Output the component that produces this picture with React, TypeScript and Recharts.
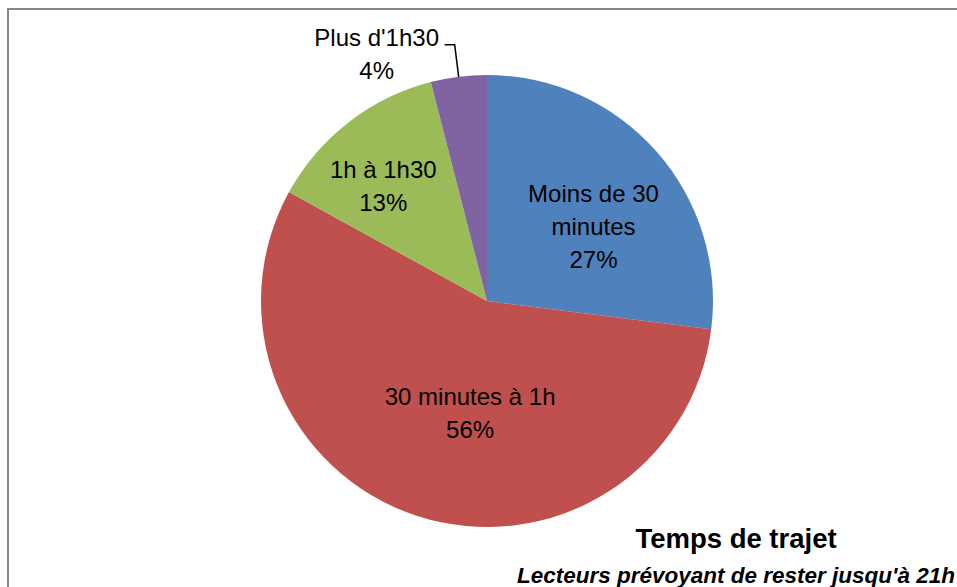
import React from 'react';
import { PieChart, Pie, Cell } from 'recharts';

const CATEGORIES = ['Moins de 30 minutes', '30 minutes à 1h', '1h à 1h30', "Plus d'1h30"];
const VALUES = [27, 56, 13, 4];
const LABEL_LINES = [['Moins de 30', 'minutes'], ['30 minutes à 1h'], ['1h à 1h30'], ["Plus d'1h30"]];
const COLORS = ['#4f81bd', '#c0504d', '#9bbb59', '#8064a2'];

const data = CATEGORIES.map((name, i) => ({ name, value: VALUES[i] }));

const FONT = "'Liberation Sans', Arial, sans-serif";
const LINE_H = 33;
const RAD = Math.PI / 180;

// label anchor (radius, angle) relative to the pie center
const LABEL_POLAR: [number, number][] = [
  [130, 35],
  [113, -98.6],
  [155, 132],
];

function renderLabel(props: any) {
  const { cx, cy, midAngle, outerRadius, index, percent } = props;
  const pct = `${Math.round(percent * 100)}%`;
  const lines = [...LABEL_LINES[index], pct];
  if (index === 3) {
    const px = cx + outerRadius * Math.cos(-midAngle * RAD);
    const py = cy + outerRadius * Math.sin(-midAngle * RAD);
    const ex = px - 4;
    const ey = py - 32;
    const tx = ex - 10;
    return (
      <g>
        <polyline points={`${px},${py} ${ex},${ey} ${tx},${ey}`} fill="none" stroke="#000" strokeWidth={1.5} />
        <text x={tx - 68} textAnchor="middle" fontFamily={FONT} fontSize={24} fill="#000">
          {lines.map((l, i) => (
            <tspan key={i} x={tx - 68} y={ey + 1 + i * LINE_H}>{l}</tspan>
          ))}
        </text>
      </g>
    );
  }
  const [r, a] = LABEL_POLAR[index];
  const x = cx + r * Math.cos(a * RAD);
  const y = cy - r * Math.sin(a * RAD);
  const top = y - ((lines.length - 1) * LINE_H) / 2 + 8.5;
  return (
    <text textAnchor="middle" fontFamily={FONT} fontSize={24} fill="#000">
      {lines.map((l, i) => (
        <tspan key={i} x={x} y={top + i * LINE_H}>{l}</tspan>
      ))}
    </text>
  );
}

export default function App() {
  return (
    <div style={{ position: 'absolute', left: 7, top: 8, width: 950, height: 579, borderLeft: '2px solid #878787', borderTop: '2px solid #878787', boxSizing: 'border-box', background: '#fff', overflow: 'hidden' }}>
      <PieChart width={948} height={577} margin={{ top: 0, right: 0, bottom: 0, left: 0 }}>
        <Pie
          data={data}
          dataKey="value"
          cx={478}
          cy={291}
          outerRadius={226}
          startAngle={90}
          endAngle={-270}
          stroke="none"
          labelLine={false}
          label={renderLabel}
          isAnimationActive={false}
        >
          {data.map((_, idx) => (
            <Cell key={idx} fill={COLORS[idx % COLORS.length]} />
          ))}
        </Pie>
      </PieChart>
      <svg width={948} height={577} style={{ position: 'absolute', left: 0, top: 0, pointerEvents: 'none' }}>
        <text x={727} y={538} textAnchor="middle" fontFamily={FONT} fontSize={27.5} fontWeight="bold" fill="#000">
          Temps de trajet
        </text>
        <text x={727} y={573} textAnchor="middle" fontFamily={FONT} fontSize={22.5} fontWeight="bold" fontStyle="italic" fill="#000">
          Lecteurs prévoyant de rester jusqu'à 21h
        </text>
      </svg>
    </div>
  );
}
